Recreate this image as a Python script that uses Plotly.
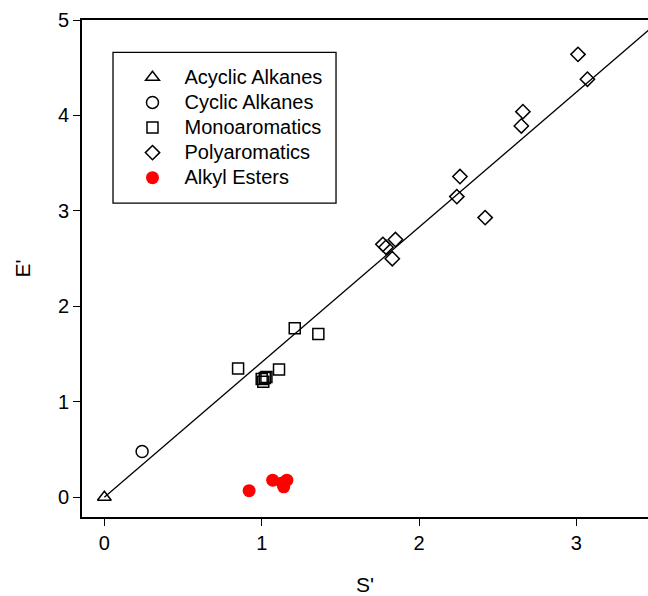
import plotly.graph_objects as go

# Data
acyclic_x = [0.0]
acyclic_y = [0.0]

cyclic_x = [0.24]
cyclic_y = [0.48]

mono_x = [0.85, 1.00, 1.02, 1.03, 1.01, 1.11, 1.21, 1.36]
mono_y = [1.35, 1.24, 1.25, 1.26, 1.21, 1.34, 1.77, 1.71]

poly_x = [1.77, 1.79, 1.83, 1.85, 2.24, 2.26, 2.42, 2.65, 2.66, 3.01, 3.07]
poly_y = [2.65, 2.62, 2.50, 2.70, 3.15, 3.36, 2.93, 3.89, 4.04, 4.64, 4.38]

ester_x = [0.92, 1.07, 1.13, 1.14, 1.16]
ester_y = [0.07, 0.18, 0.15, 0.11, 0.18]

series_names = ["Acyclic Alkanes", "Cyclic Alkanes", "Monoaromatics",
                "Polyaromatics", "Alkyl Esters"]

fit_x = [0.0, 3.6]
fit_slope = 1.415
fit_y = [fit_slope * v for v in fit_x]

FONT = "Liberation Sans, Arial, sans-serif"


def lab(t):
    return '<span style="font-size:20px">' + t + '</span>'


fig = go.Figure()

fig.add_trace(go.Scatter(x=fit_x, y=fit_y, mode="lines",
                         line=dict(color="black", width=1.3),
                         showlegend=False, hoverinfo="skip"))

fig.add_trace(go.Scatter(x=acyclic_x, y=acyclic_y, mode="markers", name=lab(series_names[0]),
                         marker=dict(symbol="triangle-up-open", size=12, color="black",
                                     line=dict(width=1.5, color="black"))))
fig.add_trace(go.Scatter(x=cyclic_x, y=cyclic_y, mode="markers", name=lab(series_names[1]),
                         marker=dict(symbol="circle-open", size=12, color="black",
                                     line=dict(width=1.5, color="black"))))
fig.add_trace(go.Scatter(x=mono_x, y=mono_y, mode="markers", name=lab(series_names[2]),
                         marker=dict(symbol="square-open", size=11, color="black",
                                     line=dict(width=1.5, color="black"))))
fig.add_trace(go.Scatter(x=poly_x, y=poly_y, mode="markers", name=lab(series_names[3]),
                         marker=dict(symbol="diamond-open", size=11, color="black",
                                     line=dict(width=1.5, color="black"))))
fig.add_trace(go.Scatter(x=ester_x, y=ester_y, mode="markers", name=lab(series_names[4]),
                         marker=dict(symbol="circle", size=13, color="#ff0000",
                                     line=dict(width=0))))

fig.update_layout(
    width=648, height=596,
    margin=dict(l=82, r=0, t=20, b=79),
    paper_bgcolor="white", plot_bgcolor="white",
    font=dict(family=FONT, size=20, color="black"),
    showlegend=True,
    legend=dict(x=0.068, y=0.92, xanchor="left", yanchor="top",
                borderwidth=0, bgcolor="rgba(0,0,0,0)",
                font=dict(size=17, family=FONT), itemwidth=54,
                tracegroupgap=0),
    shapes=[dict(type="rect", xref="paper", yref="paper",
                 x0=0.0548, x1=0.4488, y0=0.6316, y1=0.9349,
                 line=dict(color="black", width=1.3), fillcolor="rgba(0,0,0,0)")],
)

fig.update_xaxes(range=[-0.142, 3.455], tickvals=[0, 1, 2, 3],
                 showline=True, linecolor="black", linewidth=2, mirror=True,
                 ticks="outside", ticklen=7, tickwidth=1.3, tickcolor="black",
                 showgrid=False, zeroline=False,
                 title=dict(text="S'", standoff=26, font=dict(size=21)))
fig.update_yaxes(range=[-0.206, 5.0], tickvals=[0, 1, 2, 3, 4, 5],
                 showline=True, linecolor="black", linewidth=2, mirror=False,
                 ticks="outside", ticklen=7, tickwidth=1.3, tickcolor="black",
                 showgrid=False, zeroline=False,
                 title=dict(text="E'", standoff=22, font=dict(size=21)))

fig.write_html("out.html", config={"displayModeBar": False},
               post_script="document.body.style.margin='0px';")
